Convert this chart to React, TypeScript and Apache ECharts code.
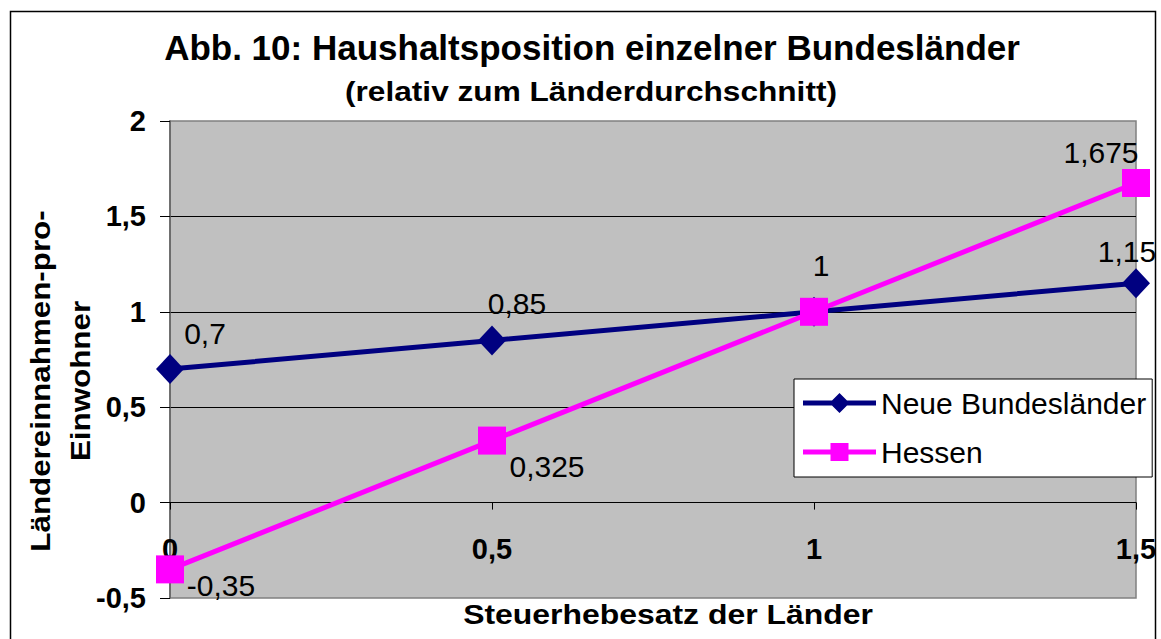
import React, { useEffect, useRef } from "react";
import * as echarts from "echarts";

const xTicks = [0, 0.5, 1, 1.5];
const seriesNames = ["Neue Bundesländer", "Hessen"];
const neueValues = [0.7, 0.85, 1, 1.15];
const hessenValues = [-0.35, 0.325, 1, 1.675];
// label offsets (px) relative to each point
const neueLabelOffsets = [[35, -36], [25, -37], [7, -46], [-9, -32]];
const hessenLabelOffsets = [[51, 16], [55, 26], null, [-35, -31]];

const FONT = "'Liberation Sans', Arial, sans-serif";
const fmt = (v: number) => String(v).replace(".", ",");

const legendIcons = [
  "path://M0,9.5L29,9.5L36.5,2L44,9.5L73,9.5L73,14.5L44,14.5L36.5,22L29,14.5L0,14.5Z",
  "path://M0,9.5L27.5,9.5L27.5,3L45.5,3L45.5,9.5L73,9.5L73,14.5L45.5,14.5L45.5,21L27.5,21L27.5,14.5L0,14.5Z",
];

export default function App() {
  const ref = useRef<HTMLDivElement>(null);
  useEffect(() => {
    if (!ref.current) return;
    const chart = echarts.init(ref.current, null, { renderer: "svg" });
    const mk = (vals: number[], offs: (number[] | null)[]) =>
      vals.map((v, i) => ({
        value: [xTicks[i], v],
        label: offs[i]
          ? { show: true, offset: offs[i] as number[] }
          : { show: false },
      }));
    const labelBase = {
      position: "inside",
      align: "center",
      verticalAlign: "middle",
      fontSize: 30,
      fontFamily: FONT,
      color: "#000",
      formatter: (p: any) => fmt(p.value[1]),
    };
    chart.setOption({
      animation: false,
      backgroundColor: "#fff",
      grid: {
        left: 170,
        top: 121,
        right: 25,
        bottom: 41,
        containLabel: false,
        outerBoundsMode: "none",
        show: true,
        backgroundColor: "#c0c0c0",
        borderColor: "#808080",
        borderWidth: 1.5,
      },
      legend: {
        orient: "vertical",
        left: 794,
        top: 379,
        backgroundColor: "#fff",
        borderColor: "#000",
        borderWidth: 1,
        padding: [9, 6, 10, 9],
        itemWidth: 73,
        itemHeight: 24,
        itemGap: 19,
        textStyle: { fontSize: 30, fontFamily: FONT, color: "#000" },
        data: seriesNames.map((n, i) => ({ name: n, icon: legendIcons[i] })),
      },
      xAxis: {
        type: "value",
        min: 0,
        max: 1.5,
        interval: 0.5,
        axisLine: { show: true, onZero: true, lineStyle: { color: "#000", width: 1 } },
        axisTick: { show: true, length: 7, lineStyle: { color: "#000" } },
        axisLabel: {
          margin: -64,
          fontSize: 29,
          fontWeight: "bold",
          fontFamily: FONT,
          color: "#000",
          formatter: fmt,
        },
        splitLine: { show: false },
      },
      yAxis: {
        type: "value",
        min: -0.5,
        max: 2,
        interval: 0.5,
        axisLine: { show: true, onZero: false, lineStyle: { color: "#606060", width: 1.5 } },
        axisTick: { show: true, length: 10, lineStyle: { color: "#000" } },
        axisLabel: {
          margin: 24,
          fontSize: 29,
          fontWeight: "bold",
          fontFamily: FONT,
          color: "#000",
          formatter: fmt,
        },
        splitLine: {
          show: true,
          showMinLine: false,
          showMaxLine: false,
          lineStyle: { color: "#000", width: 1 },
        },
      },
      series: [
        {
          name: seriesNames[0],
          type: "line",
          data: mk(neueValues, neueLabelOffsets),
          symbol: "diamond",
          symbolSize: [28, 30],
          lineStyle: { color: "#000080", width: 5 },
          itemStyle: { color: "#000080" },
          label: labelBase,
        },
        {
          name: seriesNames[1],
          type: "line",
          data: mk(hessenValues, hessenLabelOffsets),
          symbol: "rect",
          symbolSize: 28,
          lineStyle: { color: "#ff00ff", width: 5 },
          itemStyle: { color: "#ff00ff" },
          label: labelBase,
        },
      ],
      graphic: [
        {
          type: "rect",
          shape: { x: 10.5, y: 11.5, width: 1145, height: 700 },
          style: { fill: "none", stroke: "#000", lineWidth: 1.5 },
          silent: true,
        },
        {
          type: "text",
          x: 592,
          y: 47,
          style: {
            text: "Abb. 10: Haushaltsposition einzelner Bundesländer",
            font: `bold 35px ${FONT}`,
            fill: "#000",
            textAlign: "center",
            textVerticalAlign: "middle",
          },
        },
        {
          type: "text",
          x: 591,
          y: 91,
          scaleX: 1.13,
          style: {
            text: "(relativ zum Länderdurchschnitt)",
            font: `bold 28px ${FONT}`,
            fill: "#000",
            textAlign: "center",
            textVerticalAlign: "middle",
          },
        },
        {
          type: "text",
          x: 668,
          y: 614,
          scaleX: 1.14,
          style: {
            text: "Steuerhebesatz der Länder",
            font: `bold 28px ${FONT}`,
            fill: "#000",
            textAlign: "center",
            textVerticalAlign: "middle",
          },
        },
        {
          type: "text",
          x: 60,
          y: 381,
          rotation: Math.PI / 2,
          scaleX: 1.12,
          style: {
            text: "Ländereinnahmen-pro-\nEinwohner",
            font: `bold 28px ${FONT}`,
            lineHeight: 40,
            fill: "#000",
            textAlign: "center",
            textVerticalAlign: "middle",
          },
        },
      ],
    });
    return () => chart.dispose();
  }, []);
  return (
    <div
      ref={ref}
      style={{ position: "fixed", left: 0, top: 0, width: 1161, height: 639 }}
    />
  );
}
